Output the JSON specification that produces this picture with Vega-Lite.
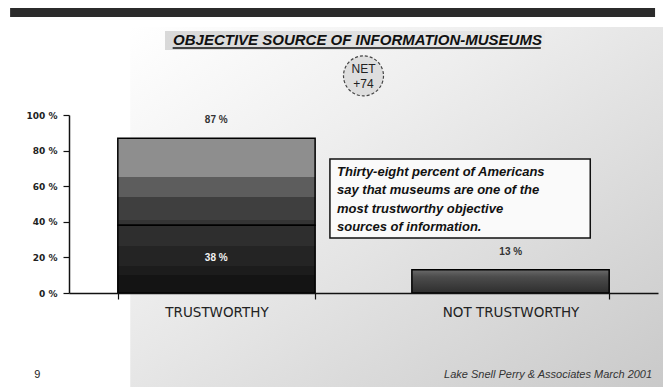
{
  "$schema": "https://vega.github.io/schema/vega-lite/v6.json",
  "width": 589,
  "height": 178,
  "autosize": {"type": "none"},
  "padding": {"left": 69, "top": 115, "right": 5, "bottom": 94},
  "background": "#ffffff",
  "config": {
    "view": {"stroke": null},
    "axisY": {
      "domainColor": "#111111",
      "domainWidth": 1.5,
      "tickColor": "#111111",
      "tickSize": 6,
      "tickWidth": 1.2,
      "labelFont": "DejaVu Sans",
      "labelFontSize": 9,
      "labelFontWeight": "bold",
      "labelColor": "#222222",
      "labelPadding": 6,
      "grid": false
    },
    "axisX": {
      "domainColor": "#111111",
      "domainWidth": 1.5,
      "tickColor": "#111111",
      "tickSize": 6,
      "tickWidth": 1.2,
      "labelFont": "DejaVu Sans",
      "labelFontSize": 13.5,
      "labelColor": "#222222",
      "labelPadding": 6,
      "grid": false
    }
  },
  "title": {
    "text": "OBJECTIVE SOURCE OF INFORMATION-MUSEUMS",
    "font": "Liberation Sans",
    "fontSize": 15,
    "fontWeight": "bold",
    "fontStyle": "italic",
    "color": "#111111",
    "anchor": "middle",
    "frame": "group",
    "baseline": "bottom",
    "offset": -55,
    "dx": -6,
    "zindex": 1
  },
  "datasets": {
    "ratings": [
      {"rating": "TRUSTWORTHY", "total": 87, "most": 38, "totalLabel": "87 %", "mostLabel": "38 %"},
      {"rating": "NOT TRUSTWORTHY", "total": 13, "most": null, "totalLabel": "13 %", "mostLabel": null}
    ],
    "notes": [
      {
        "note": "Thirty-eight percent of Americans\nsay that museums are one of the\nmost trustworthy objective\nsources of information.",
        "source": "Lake Snell Perry & Associates  March 2001",
        "page": "9",
        "net": "NET\n+74"
      }
    ]
  },
  "data": {"name": "ratings"},
  "layer": [
    {
      "data": {"name": "notes"},
      "mark": {"type": "rect", "fill": {"gradient": "linear", "x1": 0, "y1": 0, "x2": 1, "y2": 1, "stops": [{"offset": 0, "color": "#ffffff"}, {"offset": 0.35, "color": "#eeeeee"}, {"offset": 1, "color": "#c9c9c9"}]}},
      "encoding": {
        "x": {"datum": 10.4, "type": "quantitative", "scale": {"domain": [0, 100]}, "axis": null},
        "x2": {"datum": 101.5},
        "y": {"datum": 149.4, "type": "quantitative", "scale": {"domain": [0, 100], "nice": false}, "axis": {"title": null, "orient": "left", "values": [0, 20, 40, 60, 80, 100], "labelExpr": "datum.value + ' %'", "labelOverlap": false, "zindex": 1}},
        "y2": {"datum": -53.5}
      }
    },
    {
      "data": {"name": "notes"},
      "mark": {"type": "rect", "fill": "#2b2b2b"},
      "encoding": {
        "x": {"datum": -10, "type": "quantitative", "scale": {"domain": [0, 100]}, "axis": null},
        "x2": {"datum": 99.5},
        "y": {"datum": 160.1, "type": "quantitative", "scale": {"domain": [0, 100], "nice": false}, "axis": {"title": null, "orient": "left", "values": [0, 20, 40, 60, 80, 100], "labelExpr": "datum.value + ' %'", "labelOverlap": false, "zindex": 1}},
        "y2": {"datum": 155.1}
      }
    },
    {
      "data": {"name": "notes"},
      "mark": {"type": "rect", "fill": {"gradient": "linear", "x1": 0, "y1": 0, "x2": 1, "y2": 0, "stops": [{"offset": 0, "color": "#d9d9d9"}, {"offset": 1, "color": "#e9e9e9"}]}},
      "encoding": {
        "x": {"datum": 16.3, "type": "quantitative", "scale": {"domain": [0, 100]}, "axis": null},
        "x2": {"datum": 80.8},
        "y": {"datum": 147.2, "type": "quantitative", "scale": {"domain": [0, 100], "nice": false}, "axis": {"title": null, "orient": "left", "values": [0, 20, 40, 60, 80, 100], "labelExpr": "datum.value + ' %'", "labelOverlap": false, "zindex": 1}},
        "y2": {"datum": 136.5}
      }
    },
    {
      "data": {"name": "notes"},
      "mark": {"type": "rule", "color": "#111111", "strokeWidth": 1.5},
      "encoding": {
        "x": {"datum": 17.6, "type": "quantitative", "scale": {"domain": [0, 100]}, "axis": null},
        "x2": {"datum": 80.1},
        "y": {"datum": 137.6, "type": "quantitative", "scale": {"domain": [0, 100], "nice": false}, "axis": {"title": null, "orient": "left", "values": [0, 20, 40, 60, 80, 100], "labelExpr": "datum.value + ' %'", "labelOverlap": false, "zindex": 1}}
      }
    },
    {
      "data": {"name": "notes"},
      "mark": {"type": "point", "shape": "circle", "size": 1600, "filled": true, "fill": "#dedede", "stroke": "#444444", "strokeWidth": 1.2, "strokeDash": [3, 2], "opacity": 1},
      "encoding": {
        "x": {"datum": 50, "type": "quantitative", "scale": {"domain": [0, 100]}, "axis": null},
        "y": {"datum": 122, "type": "quantitative", "scale": {"domain": [0, 100], "nice": false}, "axis": {"title": null, "orient": "left", "values": [0, 20, 40, 60, 80, 100], "labelExpr": "datum.value + ' %'", "labelOverlap": false, "zindex": 1}}
      }
    },
    {
      "data": {"name": "notes"},
      "mark": {"type": "text", "lineBreak": "\n", "lineHeight": 15, "font": "Liberation Sans", "fontSize": 12, "color": "#222222", "align": "center", "baseline": "middle", "dy": -7},
      "encoding": {
        "x": {"datum": 50, "type": "quantitative", "scale": {"domain": [0, 100]}, "axis": null},
        "y": {"datum": 122, "type": "quantitative", "scale": {"domain": [0, 100], "nice": false}, "axis": {"title": null, "orient": "left", "values": [0, 20, 40, 60, 80, 100], "labelExpr": "datum.value + ' %'", "labelOverlap": false, "zindex": 1}},
        "text": {"field": "net"}
      }
    },
    {
      "data": {"name": "notes"},
      "mark": {"type": "rect", "fill": "#fafafa", "stroke": "#111111", "strokeWidth": 1.5},
      "encoding": {
        "x": {"datum": 44.3, "type": "quantitative", "scale": {"domain": [0, 100]}, "axis": null},
        "x2": {"datum": 88.5},
        "y": {"datum": 75.3, "type": "quantitative", "scale": {"domain": [0, 100], "nice": false}, "axis": {"title": null, "orient": "left", "values": [0, 20, 40, 60, 80, 100], "labelExpr": "datum.value + ' %'", "labelOverlap": false, "zindex": 1}},
        "y2": {"datum": 30.9}
      }
    },
    {
      "data": {"name": "notes"},
      "mark": {"type": "text", "lineBreak": "\n", "lineHeight": 18.5, "font": "Liberation Sans", "fontSize": 13, "fontWeight": "bold", "fontStyle": "italic", "color": "#111111", "align": "left", "baseline": "top"},
      "encoding": {
        "x": {"datum": 45.5, "type": "quantitative", "scale": {"domain": [0, 100]}, "axis": null},
        "y": {"datum": 71.5, "type": "quantitative", "scale": {"domain": [0, 100], "nice": false}, "axis": {"title": null, "orient": "left", "values": [0, 20, 40, 60, 80, 100], "labelExpr": "datum.value + ' %'", "labelOverlap": false, "zindex": 1}},
        "text": {"field": "note"}
      }
    },
    {
      "data": {"name": "notes"},
      "mark": {"type": "text", "font": "Liberation Sans", "fontSize": 11, "fontStyle": "italic", "color": "#333333", "align": "right", "baseline": "middle"},
      "encoding": {
        "x": {"datum": 99, "type": "quantitative", "scale": {"domain": [0, 100]}, "axis": null},
        "y": {"datum": -46.1, "type": "quantitative", "scale": {"domain": [0, 100], "nice": false}, "axis": {"title": null, "orient": "left", "values": [0, 20, 40, 60, 80, 100], "labelExpr": "datum.value + ' %'", "labelOverlap": false, "zindex": 1}},
        "text": {"field": "source"}
      }
    },
    {
      "data": {"name": "notes"},
      "mark": {"type": "text", "font": "Liberation Sans", "fontSize": 11, "color": "#222222", "align": "center", "baseline": "middle"},
      "encoding": {
        "x": {"datum": -5.4, "type": "quantitative", "scale": {"domain": [0, 100]}, "axis": null},
        "y": {"datum": -46.1, "type": "quantitative", "scale": {"domain": [0, 100], "nice": false}, "axis": {"title": null, "orient": "left", "values": [0, 20, 40, 60, 80, 100], "labelExpr": "datum.value + ' %'", "labelOverlap": false, "zindex": 1}},
        "text": {"field": "page"}
      }
    },
    {
      "transform": [{"filter": "datum.rating === 'TRUSTWORTHY'"}],
      "mark": {"type": "bar", "stroke": "#000000", "strokeWidth": 1.5, "fill": {"gradient": "linear", "x1": 0, "y1": 0, "x2": 0, "y2": 1, "stops": [{"offset": 0, "color": "#8e8e8e"}, {"offset": 0.45, "color": "#8e8e8e"}, {"offset": 0.45, "color": "#5d5d5d"}, {"offset": 0.67, "color": "#5d5d5d"}, {"offset": 0.67, "color": "#3f3f3f"}, {"offset": 0.94, "color": "#3f3f3f"}, {"offset": 0.94, "color": "#343434"}, {"offset": 1, "color": "#343434"}]}},
      "encoding": {
        "x": {"field": "rating", "type": "nominal", "sort": null, "scale": {"domain": ["TRUSTWORTHY", "NOT TRUSTWORTHY"], "paddingInner": 0.329, "paddingOuter": 0.166}, "axis": {"orient": "bottom", "title": null, "labelAngle": 0, "tickBand": "extent", "zindex": 1}},
        "y": {"field": "total", "type": "quantitative", "scale": {"domain": [0, 100], "nice": false}, "axis": {"title": null, "orient": "left", "values": [0, 20, 40, 60, 80, 100], "labelExpr": "datum.value + ' %'", "labelOverlap": false, "zindex": 1}},
        "y2": {"field": "most"}
      }
    },
    {
      "transform": [{"filter": "datum.rating === 'TRUSTWORTHY'"}],
      "mark": {"type": "bar", "stroke": "#000000", "strokeWidth": 1.5, "fill": {"gradient": "linear", "x1": 0, "y1": 0, "x2": 0, "y2": 1, "stops": [{"offset": 0, "color": "#2e2e2e"}, {"offset": 0.3, "color": "#2e2e2e"}, {"offset": 0.3, "color": "#242424"}, {"offset": 0.6, "color": "#242424"}, {"offset": 0.6, "color": "#1c1c1c"}, {"offset": 0.74, "color": "#1c1c1c"}, {"offset": 0.74, "color": "#141414"}, {"offset": 1, "color": "#141414"}]}},
      "encoding": {
        "x": {"field": "rating", "type": "nominal", "sort": null, "scale": {"domain": ["TRUSTWORTHY", "NOT TRUSTWORTHY"], "paddingInner": 0.329, "paddingOuter": 0.166}, "axis": null},
        "y": {"field": "most", "type": "quantitative", "scale": {"domain": [0, 100], "nice": false}, "axis": {"title": null, "orient": "left", "values": [0, 20, 40, 60, 80, 100], "labelExpr": "datum.value + ' %'", "labelOverlap": false, "zindex": 1}},
        "y2": {"datum": 0}
      }
    },
    {
      "transform": [{"filter": "datum.rating === 'NOT TRUSTWORTHY'"}],
      "mark": {"type": "bar", "stroke": "#000000", "strokeWidth": 1.5, "fill": {"gradient": "linear", "x1": 0, "y1": 0, "x2": 0, "y2": 1, "stops": [{"offset": 0, "color": "#6a6a6a"}, {"offset": 0.3, "color": "#4c4c4c"}, {"offset": 1, "color": "#2e2e2e"}]}},
      "encoding": {
        "x": {"field": "rating", "type": "nominal", "sort": null, "scale": {"domain": ["TRUSTWORTHY", "NOT TRUSTWORTHY"], "paddingInner": 0.329, "paddingOuter": 0.166}, "axis": null},
        "y": {"field": "total", "type": "quantitative", "scale": {"domain": [0, 100], "nice": false}, "axis": {"title": null, "orient": "left", "values": [0, 20, 40, 60, 80, 100], "labelExpr": "datum.value + ' %'", "labelOverlap": false, "zindex": 1}}
      }
    },
    {
      "mark": {"type": "text", "font": "Liberation Sans", "fontSize": 10, "fontWeight": "bold", "color": "#333333", "baseline": "middle", "dy": -18},
      "encoding": {
        "x": {"field": "rating", "type": "nominal", "sort": null, "scale": {"domain": ["TRUSTWORTHY", "NOT TRUSTWORTHY"], "paddingInner": 0.329, "paddingOuter": 0.166}, "axis": null},
        "y": {"field": "total", "type": "quantitative", "scale": {"domain": [0, 100], "nice": false}, "axis": {"title": null, "orient": "left", "values": [0, 20, 40, 60, 80, 100], "labelExpr": "datum.value + ' %'", "labelOverlap": false, "zindex": 1}},
        "text": {"field": "totalLabel"}
      }
    },
    {
      "transform": [{"filter": "datum.rating === 'TRUSTWORTHY'"}],
      "mark": {"type": "text", "font": "Liberation Sans", "fontSize": 10, "fontWeight": "bold", "color": "#f2f2f2", "baseline": "middle", "dy": 33},
      "encoding": {
        "x": {"field": "rating", "type": "nominal", "sort": null, "scale": {"domain": ["TRUSTWORTHY", "NOT TRUSTWORTHY"], "paddingInner": 0.329, "paddingOuter": 0.166}, "axis": null},
        "y": {"field": "most", "type": "quantitative", "scale": {"domain": [0, 100], "nice": false}, "axis": {"title": null, "orient": "left", "values": [0, 20, 40, 60, 80, 100], "labelExpr": "datum.value + ' %'", "labelOverlap": false, "zindex": 1}},
        "text": {"field": "mostLabel"}
      }
    }
  ],
  "resolve": {"scale": {"x": "independent"}, "axis": {"x": "independent"}}
}
